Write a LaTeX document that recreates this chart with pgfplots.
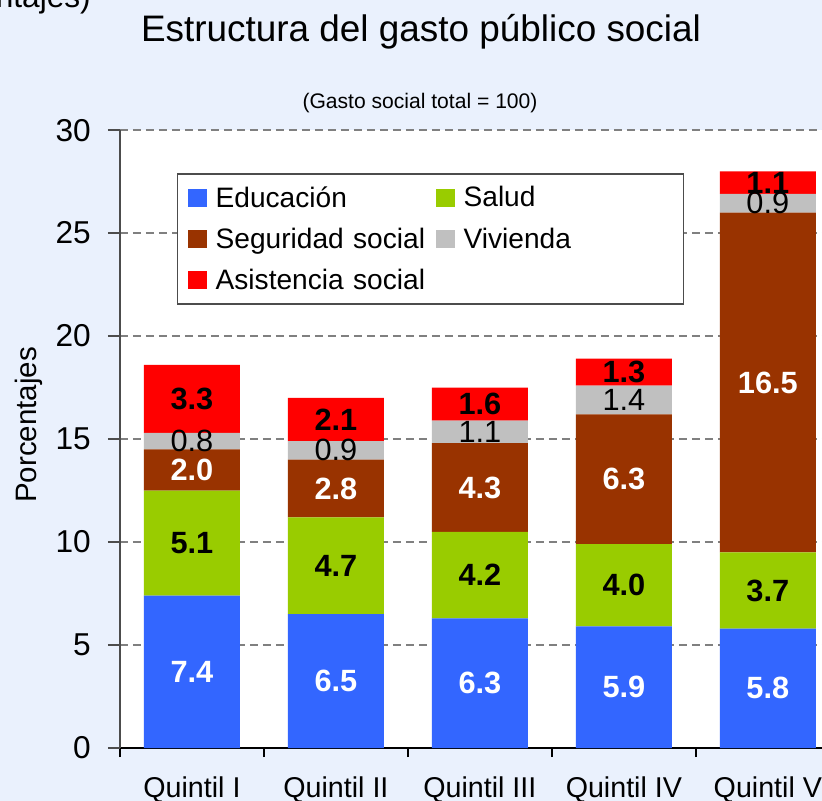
\documentclass[border=0pt]{standalone}
\usepackage{fontspec}
\setmainfont{Liberation Sans}
\usepackage{pgfplots}
\pgfplotsset{compat=1.18}
\usepackage{pgfplotstable}

\definecolor{fondo}{RGB}{234,241,253}
\definecolor{educ}{RGB}{51,102,255}
\definecolor{salud}{RGB}{153,204,0}
\definecolor{segsoc}{RGB}{153,51,0}
\definecolor{vivienda}{RGB}{192,192,192}
\definecolor{asist}{RGB}{255,0,0}

% gasto social por quintil (gasto social total = 100)
\pgfplotstableread{
x  e    s    ss    v    a
0  7.4  5.1  2.0   0.8  3.3
1  6.5  4.7  2.8   0.9  2.1
2  6.3  4.2  4.3   1.1  1.6
3  5.9  4.0  6.3   1.4  1.3
4  5.8  3.7  16.5  0.9  1.1
}\datos

\begin{document}
\begin{tikzpicture}[x=0.02cm,y=0.02cm]
\path[use as bounding box] (0,0) rectangle (822,801);
\fill[fondo] (0,0) rectangle (822,801);
\clip (0,0) rectangle (822,801);

\node[anchor=base east, font=\fontsize{18}{20}\selectfont] at (97,793) {(Porcentajes)};
\node[anchor=base, font=\fontsize{21}{25}\selectfont] at (421,759) {Estructura del gasto público social};
\node[anchor=base, font=\fontsize{12}{14}\selectfont] at (420,692) {(Gasto social total = 100)};

\begin{axis}[
    at={(3.84cm,1.06cm)}, anchor=origin,
    scale only axis, width=14.4cm, height=12.36cm,
    axis background/.style={fill=white},
    ybar stacked, bar width=1.92cm,
    xmin=-0.5, xmax=4.5, ymin=0, ymax=30,
    axis x line*=bottom, axis y line*=left,
    x axis line style={black, line width=0.8pt},
    y axis line style={gray!60!black, line width=0.8pt},
    tick align=outside,
    major tick length=0.24cm, minor tick length=0.18cm,
    ytick={0,5,...,30},
    ytick style={gray!60!black, line width=0.8pt},
    xtick={0,1,2,3,4},
    xticklabels={Quintil I, Quintil II, Quintil III, Quintil IV, Quintil V},
    major x tick style={draw=none},
    minor xtick={-0.5,0.5,1.5,2.5,3.5,4.5},
    minor x tick style={black, line width=0.8pt},
    /pgf/number format/assume math mode=true,
    yticklabel style={font=\fontsize{18}{20}\selectfont, xshift=-0.22cm},
    xticklabel style={font=\fontsize{16.3}{18}\selectfont, yshift=-0.22cm},
    ymajorgrids,
    grid style={gray, line width=0.8pt, dash pattern=on 0.16cm off 0.1cm},
    ylabel={Porcentajes},
    ylabel style={at={(axis description cs:-0.126,0.523)}, anchor=center,
        font=\fontsize{16.8}{18}\selectfont},
    point meta=explicit symbolic,
    nodes near coords={\pgfplotspointmeta},
    every node near coord/.append style={anchor=center,
        font=\fontsize{17.5}{20}\selectfont\bfseries},
    legend columns=2,
    legend cell align=left,
    legend image code/.code={\fill[#1] (0cm,-0.18cm) rectangle (0.38cm,0.18cm);},
    legend style={at={(axis description cs:0.0792,0.9304)}, anchor=north west,
        draw=gray!60!black, fill=white, line width=0.8pt,
        font=\fontsize{16}{18}\selectfont,
        inner xsep=0.2cm, inner ysep=0.25cm, row sep=0.36cm,
        nodes={inner sep=0pt, text width=4.2cm, align=left},
        /tikz/every even column/.append style={column sep=0.2cm},
        /tikz/every odd column/.append style={column sep=0.18cm}},
]
\addplot[fill=educ, draw=none, every node near coord/.append style={text=white}]
    table[x=x, y=e, meta=e] {\datos};
\addplot[fill=salud, draw=none, every node near coord/.append style={text=black}]
    table[x=x, y=s, meta=s] {\datos};
\addplot[fill=segsoc, draw=none, every node near coord/.append style={text=white}]
    table[x=x, y=ss, meta=ss] {\datos};
\addplot[fill=vivienda, draw=none, every node near coord/.append style={text=black,
        font=\fontsize{17.5}{20}\selectfont\mdseries}]
    table[x=x, y=v, meta=v] {\datos};
\addplot[fill=asist, draw=none, every node near coord/.append style={text=black}]
    table[x=x, y=a, meta=a] {\datos};
\legend{Educación, Salud, Seguridad social, Vivienda, Asistencia social}
\end{axis}
\end{tikzpicture}
\end{document}
